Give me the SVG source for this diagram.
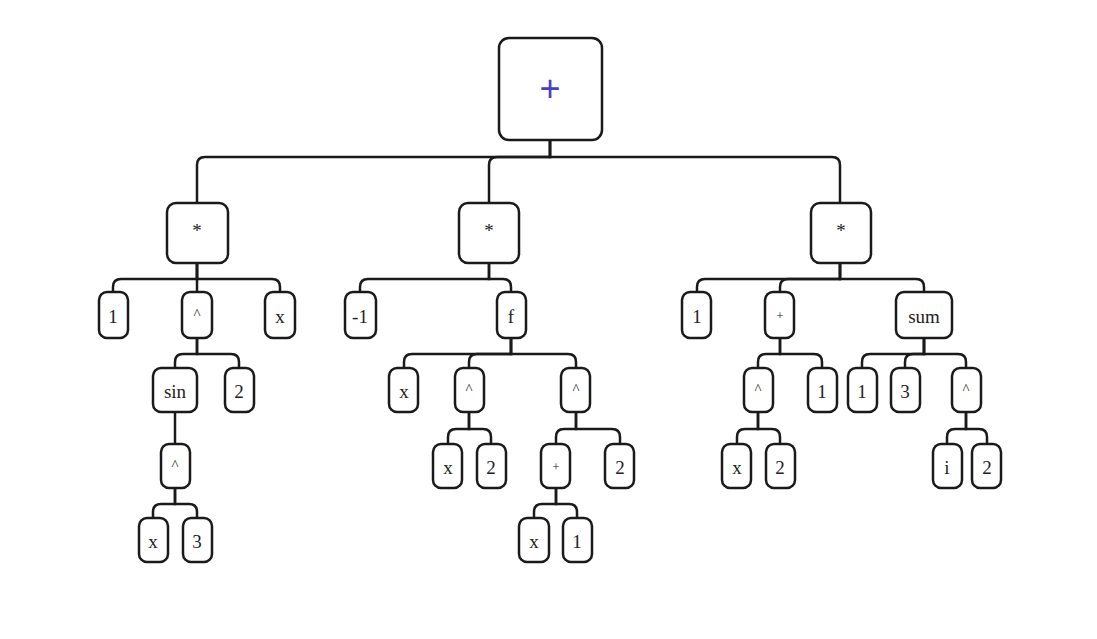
<svg xmlns="http://www.w3.org/2000/svg" width="1097" height="639" viewBox="0 0 1097 639">
<style>
.n rect{fill:#fff;stroke:#1a1a1a;stroke-width:2.5}
.n text{font-family:"Liberation Serif","DejaVu Serif",serif;font-size:19px;fill:#222;text-anchor:middle;dominant-baseline:central}
#c path{fill:none;stroke:#1a1a1a;stroke-width:2.5}
</style>
<rect width="1097" height="639" fill="#fff"/>
<g id="c">
<path d="M550,140V157H205Q197,157 197,165V203"/>
<path d="M550,140V157H497Q489,157 489,165V203"/>
<path d="M550,140V157H832Q840,157 840,165V203"/>
<path d="M197,263V279H121Q113,279 113,287V292"/>
<path d="M197,263V292"/>
<path d="M197,263V279H272Q280,279 280,287V292"/>
<path d="M197,338V354H183Q175,354 175,362V368"/>
<path d="M197,338V354H231Q239,354 239,362V368"/>
<path d="M175,412V444"/>
<path d="M175,488V504H161Q153,504 153,512V518"/>
<path d="M175,488V504H189Q197,504 197,512V518"/>
<path d="M489,263V279H368Q360,279 360,287V292"/>
<path d="M489,263V279H503Q511,279 511,287V292"/>
<path d="M511,338V354H412Q404,354 404,362V368"/>
<path d="M511,338V354H477Q469,354 469,362V368"/>
<path d="M511,338V354H568Q576,354 576,362V368"/>
<path d="M469,412V429H456Q448,429 448,437V444"/>
<path d="M469,412V429H483Q491,429 491,437V444"/>
<path d="M576,412V429H564Q556,429 556,437V444"/>
<path d="M576,412V429H612Q620,429 620,437V444"/>
<path d="M556,488V504H542Q534,504 534,512V518"/>
<path d="M556,488V504H569Q577,504 577,512V518"/>
<path d="M840,263V279H705Q697,279 697,287V292"/>
<path d="M840,263V279H788Q780,279 780,287V292"/>
<path d="M840,263V279H916Q924,279 924,287V292"/>
<path d="M780,338V354H766Q758,354 758,362V368"/>
<path d="M780,338V354H814Q822,354 822,362V368"/>
<path d="M758,412V429H745Q737,429 737,437V444"/>
<path d="M758,412V429H772Q780,429 780,437V444"/>
<path d="M924,338V354H870Q862,354 862,362V368"/>
<path d="M924,338V354H913Q905,354 905,362V368"/>
<path d="M924,338V354H958Q966,354 966,362V368"/>
<path d="M966,412V429H955Q947,429 947,437V444"/>
<path d="M966,412V429H979Q987,429 987,437V444"/>
</g>
<g id="root" class="n"><rect x="499" y="38" width="103" height="102" rx="10"/><text x="550" y="88" style="font-family:'Liberation Sans',sans-serif;font-size:36px;fill:#4a3fbf">+</text></g>
<g id="m1" class="n"><rect x="167" y="203" width="61" height="60" rx="9"/><text x="197" y="230">*</text></g>
<g id="m2" class="n"><rect x="459" y="203" width="60" height="60" rx="9"/><text x="489" y="230">*</text></g>
<g id="m3" class="n"><rect x="811" y="203" width="60" height="60" rx="9"/><text x="841" y="230">*</text></g>
<g id="a1" class="n"><rect x="99" y="292" width="29" height="46" rx="8"/><text x="113" y="316">1</text></g>
<g id="a2" class="n"><rect x="182" y="292" width="30" height="46" rx="8"/><text x="197" y="314" style="font-size:15px">^</text></g>
<g id="a3" class="n"><rect x="265" y="292" width="30" height="46" rx="8"/><text x="280" y="316">x</text></g>
<g id="a4" class="n"><rect x="153" y="368" width="44" height="44" rx="8"/><text x="175" y="391">sin</text></g>
<g id="a5" class="n"><rect x="225" y="368" width="29" height="44" rx="8"/><text x="239" y="391">2</text></g>
<g id="a6" class="n"><rect x="161" y="444" width="29" height="44" rx="8"/><text x="175" y="465" style="font-size:15px">^</text></g>
<g id="a7" class="n"><rect x="139" y="518" width="29" height="44" rx="8"/><text x="153" y="541">x</text></g>
<g id="a8" class="n"><rect x="183" y="518" width="29" height="44" rx="8"/><text x="197" y="541">3</text></g>
<g id="b1" class="n"><rect x="345" y="292" width="31" height="46" rx="8"/><text x="360" y="316">-1</text></g>
<g id="b2" class="n"><rect x="497" y="292" width="29" height="46" rx="8"/><text x="511" y="316">f</text></g>
<g id="b3" class="n"><rect x="389" y="368" width="29" height="44" rx="8"/><text x="404" y="391">x</text></g>
<g id="b4" class="n"><rect x="455" y="368" width="29" height="44" rx="8"/><text x="469" y="389" style="font-size:15px">^</text></g>
<g id="b5" class="n"><rect x="561" y="368" width="29" height="44" rx="8"/><text x="576" y="389" style="font-size:15px">^</text></g>
<g id="b6" class="n"><rect x="433" y="444" width="29" height="44" rx="8"/><text x="448" y="467">x</text></g>
<g id="b7" class="n"><rect x="477" y="444" width="29" height="44" rx="8"/><text x="491" y="467">2</text></g>
<g id="b8" class="n"><rect x="541" y="444" width="29" height="44" rx="8"/><text x="556" y="466" style="font-size:13px">+</text></g>
<g id="b9" class="n"><rect x="605" y="444" width="29" height="44" rx="8"/><text x="620" y="467">2</text></g>
<g id="b10" class="n"><rect x="519" y="518" width="30" height="44" rx="8"/><text x="534" y="541">x</text></g>
<g id="b11" class="n"><rect x="563" y="518" width="29" height="44" rx="8"/><text x="577" y="541">1</text></g>
<g id="c1" class="n"><rect x="682" y="292" width="29" height="46" rx="8"/><text x="697" y="316">1</text></g>
<g id="c2" class="n"><rect x="765" y="292" width="29" height="46" rx="8"/><text x="780" y="315" style="font-size:13px">+</text></g>
<g id="c3" class="n"><rect x="896" y="292" width="56" height="46" rx="8"/><text x="924" y="316">sum</text></g>
<g id="c4" class="n"><rect x="744" y="368" width="29" height="44" rx="8"/><text x="758" y="389" style="font-size:15px">^</text></g>
<g id="c5" class="n"><rect x="808" y="368" width="29" height="44" rx="8"/><text x="822" y="391">1</text></g>
<g id="c6" class="n"><rect x="722" y="444" width="29" height="44" rx="8"/><text x="737" y="467">x</text></g>
<g id="c7" class="n"><rect x="766" y="444" width="29" height="44" rx="8"/><text x="780" y="467">2</text></g>
<g id="c8" class="n"><rect x="848" y="368" width="29" height="44" rx="8"/><text x="862" y="391">1</text></g>
<g id="c9" class="n"><rect x="891" y="368" width="29" height="44" rx="8"/><text x="905" y="391">3</text></g>
<g id="c10" class="n"><rect x="952" y="368" width="29" height="44" rx="8"/><text x="966" y="389" style="font-size:15px">^</text></g>
<g id="c11" class="n"><rect x="933" y="444" width="29" height="44" rx="8"/><text x="947" y="467">i</text></g>
<g id="c12" class="n"><rect x="972" y="444" width="29" height="44" rx="8"/><text x="987" y="467">2</text></g>
</svg>
